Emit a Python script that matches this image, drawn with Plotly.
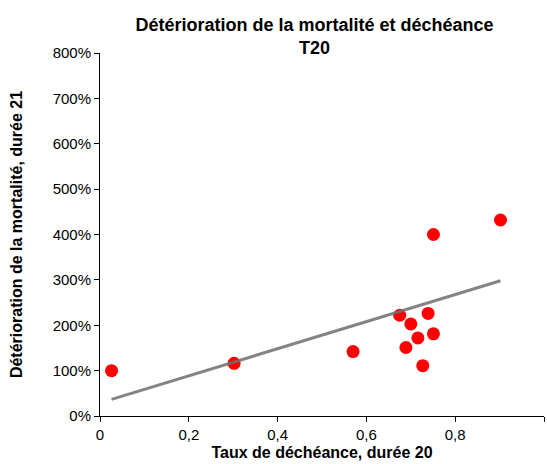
import plotly.graph_objects as go

# Data
taux_decheance = [0.026, 0.302, 0.570, 0.675, 0.689, 0.700, 0.716, 0.727, 0.739, 0.751, 0.751, 0.902]
deterioration = [1.00, 1.16, 1.42, 2.22, 1.51, 2.03, 1.72, 1.11, 2.26, 1.81, 4.00, 4.32]
trend_x = [0.026, 0.902]
trend_y = [0.367, 2.98]

x_ticks = [0, 0.2, 0.4, 0.6, 0.8, 1]
y_ticks = [0, 1, 2, 3, 4, 5, 6, 7, 8]

font = "Liberation Sans, Arial, sans-serif"

fig = go.Figure()
fig.add_trace(go.Scatter(x=taux_decheance, y=deterioration, mode="markers",
                         marker=dict(color="#FF0000", size=13, line=dict(width=0)),
                         showlegend=False))
fig.add_trace(go.Scatter(x=trend_x, y=trend_y, mode="lines",
                         line=dict(color="rgba(110,110,110,0.85)", width=3),
                         showlegend=False))

fig.update_layout(
    width=547, height=464,
    margin=dict(l=100, r=3, t=53, b=48),
    paper_bgcolor="white", plot_bgcolor="white",
    separators=", ",
    font=dict(family=font, color="#000000", size=15),
    title=dict(text="<b>Détérioration de la mortalité et déchéance<br>T20</b>",
               x=0.575, xanchor="center", yref="container", y=0.933, yanchor="top",
               font=dict(size=18, family=font, color="#000000")),
    xaxis=dict(range=[0, 1], tickvals=x_ticks, tickformat="", showgrid=False,
               zeroline=False, showline=True, linecolor="#000000", linewidth=1,
               ticks="outside", ticklen=5, tickcolor="#000000",
               tickfont=dict(size=15, family=font, color="#000000"),
               title=dict(text="<b>Taux de déchéance, durée 20</b>", standoff=4,
                          font=dict(size=16, family=font, color="#000000"))),
    yaxis=dict(range=[0, 8], tickvals=y_ticks, tickformat=".0%", showgrid=False,
               zeroline=False, showline=True, linecolor="#000000", linewidth=1,
               ticks="outside", ticklen=5, tickcolor="#000000",
               tickfont=dict(size=15, family=font, color="#000000"),
               title=dict(text="<b>Détérioration de la mortalité, durée 21</b>", standoff=26,
                          font=dict(size=16, family=font, color="#000000"))),
)

fig.write_html("out.html")
